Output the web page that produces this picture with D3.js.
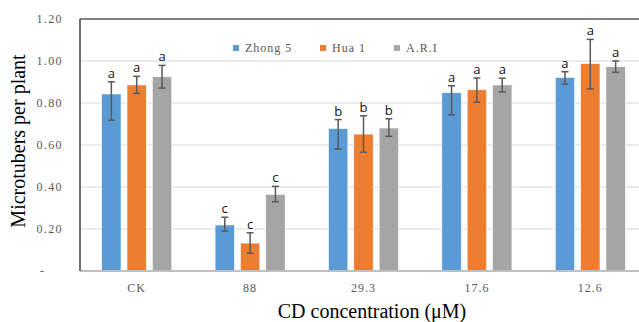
<!DOCTYPE html>
<html>
<head>
<meta charset="utf-8">
<script src="https://cdn.jsdelivr.net/npm/d3@7"></script>
<style>
  body { margin: 0; background: #fff; }
  svg { display: block; }
</style>
</head>
<body>
<div id="chart"></div>
<script>
// data
var categories = ["CK", "88", "29.3", "17.6", "12.6"];
var series = ["Zhong 5", "Hua 1", "A.R.I"];
var colors = ["#5B9BD5", "#ED7D31", "#A5A5A5"];

var means = [
  [0.843, 0.886, 0.925],
  [0.219, 0.133, 0.365],
  [0.678, 0.652, 0.681],
  [0.849, 0.863, 0.886],
  [0.922, 0.987, 0.973]
];
var errUp = [
  [0.058, 0.041, 0.054],
  [0.037, 0.049, 0.038],
  [0.043, 0.087, 0.044],
  [0.033, 0.056, 0.032],
  [0.027, 0.116, 0.027]
];
var errDown = [
  [0.125, 0.040, 0.054],
  [0.029, 0.048, 0.035],
  [0.097, 0.086, 0.040],
  [0.105, 0.059, 0.033],
  [0.032, 0.120, 0.027]
];
var letters = [
  ["a", "a", "a"],
  ["c", "c", "c"],
  ["b", "b", "b"],
  ["a", "a", "a"],
  ["a", "a", "a"]
];
var yTicks = [0, 0.2, 0.4, 0.6, 0.8, 1.0, 1.2];

var width = 639, height = 322;
var plotLeft = 80, plotRight = 647, plotTop = 19, plotBottom = 271;

var svg = d3.select("#chart").append("svg")
  .attr("width", width)
  .attr("height", height);

var y = d3.scaleLinear().domain([0, 1.2]).range([plotBottom, plotTop]);

var x0 = d3.scaleBand()
  .domain(categories)
  .range([plotLeft, plotRight])
  .paddingInner(0.382)
  .paddingOuter(0.191);

var x1 = d3.scaleBand()
  .domain(series)
  .range([0, x0.bandwidth()])
  .paddingInner(0.235);

// gridlines
svg.append("g")
  .selectAll("line")
  .data(yTicks.filter(function(d) { return d > 0 && d < 1.2; }))
  .enter().append("line")
    .attr("x1", plotLeft).attr("x2", plotRight)
    .attr("y1", function(d) { return y(d); })
    .attr("y2", function(d) { return y(d); })
    .style("stroke", "#D9D9D9")
    .style("stroke-width", 1);

// top border
svg.append("line")
  .attr("x1", plotLeft).attr("x2", plotRight)
  .attr("y1", y(1.2)).attr("y2", y(1.2))
  .style("stroke", "#595959")
  .style("stroke-width", 1.5);

// y tick labels
var fmt = d3.format(".2f");
svg.append("g")
  .selectAll("text")
  .data(yTicks)
  .enter().append("text")
    .attr("x", 63)
    .attr("y", function(d) { return y(d); })
    .attr("dy", "0.35em")
    .style("text-anchor", "end")
    .style("font-family", "'Liberation Serif', 'DejaVu Serif', serif")
    .style("font-size", "12px")
    .style("letter-spacing", "1.4px")
    .style("fill", "#595959")
    .text(function(d) { return d === 0 ? "-\u00a0\u00a0\u00a0\u00a0" : fmt(d); });

// bars
var groups = svg.append("g")
  .selectAll("g")
  .data(categories)
  .enter().append("g")
    .attr("transform", function(d) { return "translate(" + x0(d) + ",0)"; });

var cells = groups.selectAll("g")
  .data(function(d, i) {
    return series.map(function(s, j) {
      return { s: s, j: j, v: means[i][j], up: errUp[i][j], dn: errDown[i][j], l: letters[i][j] };
    });
  })
  .enter().append("g");

cells.append("rect")
  .attr("x", function(d) { return x1(d.s); })
  .attr("width", x1.bandwidth())
  .attr("y", function(d) { return y(d.v); })
  .attr("height", function(d) { return y(0) - y(d.v); })
  .style("fill", function(d) { return colors[d.j]; })
  .style("stroke", "#fff")
  .style("stroke-width", 0.6);

// error bars
var cx = function(d) { return x1(d.s) + x1.bandwidth() / 2; };
cells.append("line")
  .attr("x1", cx).attr("x2", cx)
  .attr("y1", function(d) { return y(d.v + d.up); })
  .attr("y2", function(d) { return y(d.v - d.dn); })
  .style("stroke", "#595959").style("stroke-width", 1.5);
cells.append("line")
  .attr("x1", function(d) { return cx(d) - 3.5; })
  .attr("x2", function(d) { return cx(d) + 3.5; })
  .attr("y1", function(d) { return y(d.v + d.up); })
  .attr("y2", function(d) { return y(d.v + d.up); })
  .style("stroke", "#595959").style("stroke-width", 1.5);
cells.append("line")
  .attr("x1", function(d) { return cx(d) - 3.5; })
  .attr("x2", function(d) { return cx(d) + 3.5; })
  .attr("y1", function(d) { return y(d.v - d.dn); })
  .attr("y2", function(d) { return y(d.v - d.dn); })
  .style("stroke", "#595959").style("stroke-width", 1.5);

// significance letters
cells.append("text")
  .attr("x", cx)
  .attr("y", function(d) { return y(d.v + d.up) - 4; })
  .style("text-anchor", "middle")
  .style("font-family", "'Open Sans', 'Liberation Sans', sans-serif")
  .style("font-size", "13px")
  .style("fill", "#111")
  .text(function(d) { return d.l; });

// axes lines
svg.append("line")
  .attr("x1", plotLeft).attr("x2", plotRight)
  .attr("y1", plotBottom).attr("y2", plotBottom)
  .style("stroke", "#BFBFBF")
  .style("stroke-width", 2);
svg.append("line")
  .attr("x1", plotLeft).attr("x2", plotLeft)
  .attr("y1", plotTop).attr("y2", plotBottom)
  .style("stroke", "#404040")
  .style("stroke-width", 1.5);

// category labels
svg.append("g")
  .selectAll("text")
  .data(categories)
  .enter().append("text")
    .attr("x", function(d) { return x0(d) + x0.bandwidth() / 2; })
    .attr("y", 292)
    .style("text-anchor", "middle")
    .style("font-family", "'Liberation Serif', 'DejaVu Serif', serif")
    .style("font-size", "12px")
    .style("letter-spacing", "1px")
    .style("fill", "#595959")
    .text(function(d) { return d; });

// legend
var legendX = [233, 320, 394];
var legend = svg.append("g")
  .selectAll("g")
  .data(series)
  .enter().append("g")
    .attr("transform", function(d, i) { return "translate(" + legendX[i] + ",48)"; });
legend.append("rect")
  .attr("x", 0).attr("y", -3)
  .attr("width", 6).attr("height", 6)
  .style("fill", function(d, i) { return colors[i]; });
legend.append("text")
  .attr("x", 12)
  .attr("dy", "0.35em")
  .style("font-family", "'Liberation Serif', 'DejaVu Serif', serif")
  .style("font-size", "12px")
  .style("letter-spacing", "1px")
  .style("fill", "#595959")
  .text(function(d) { return d; });

// axis titles
svg.append("text")
  .attr("transform", "translate(25," + 141 + ") rotate(-90)")
  .style("text-anchor", "middle")
  .style("font-family", "'Liberation Serif', 'DejaVu Serif', serif")
  .style("font-size", "20px")
  .style("fill", "#000")
  .text("Microtubers per plant");

svg.append("text")
  .attr("x", 372)
  .attr("y", 318)
  .style("text-anchor", "middle")
  .style("font-family", "'Liberation Serif', 'DejaVu Serif', serif")
  .style("font-size", "20px")
  .style("fill", "#000")
  .text("CD concentration (\u03bcM)");
</script>
</body>
</html>
